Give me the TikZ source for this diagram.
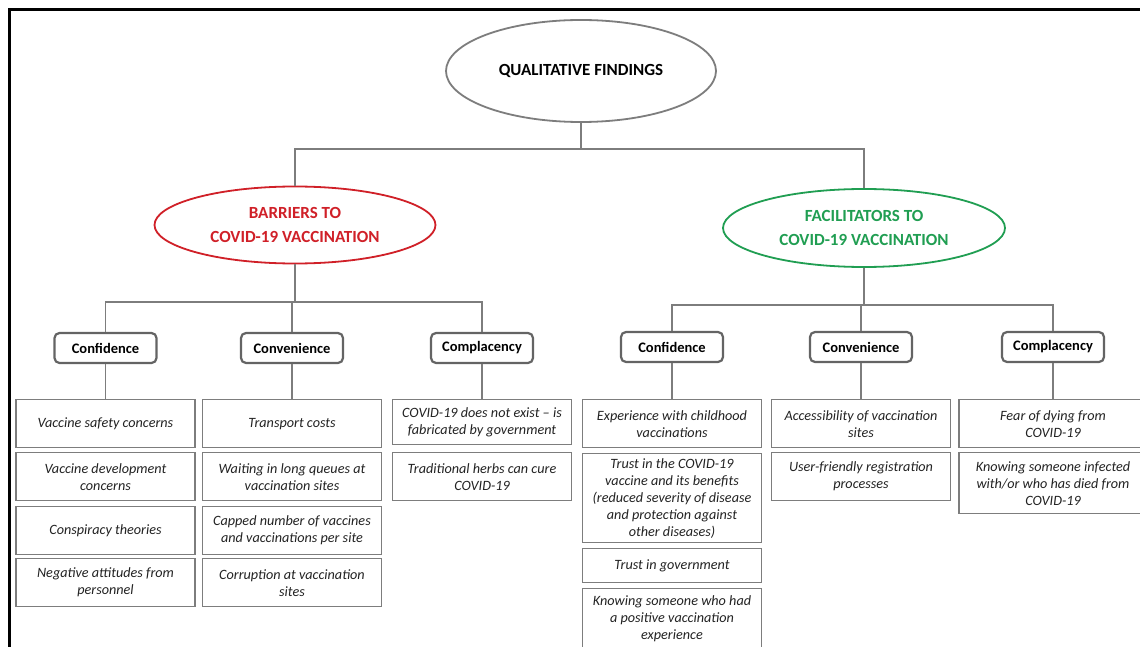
\documentclass[tikz,border=0pt]{standalone}
\usepackage{fontspec}
\setmainfont{Carlito}
\usetikzlibrary{shapes.geometric}
\definecolor{lineGray}{RGB}{125,125,125}
\definecolor{boxGray}{RGB}{100,100,100}
\definecolor{barRed}{RGB}{208,32,40}
\definecolor{facGreen}{RGB}{32,158,82}
\definecolor{itemText}{RGB}{35,35,35}
\begin{document}
\begin{tikzpicture}[x=1pt, y=-1pt]
\tikzstyle{theme} = [ellipse, draw=lineGray, line width=1.8pt, inner sep=0pt, align=center, font=\fontsize{17}{24}\selectfont\bfseries]
\tikzstyle{group} = [rectangle, rounded corners=5pt, draw=boxGray, line width=2.2pt, minimum width=102pt, minimum height=30pt, inner sep=0pt, font=\fontsize{14.5}{17}\selectfont\bfseries]
\tikzstyle{item} = [rectangle, draw=lineGray, line width=1.4pt, minimum width=179pt, anchor=north, inner sep=0pt, align=center, text=itemText, font=\fontsize{14.2}{17}\selectfont\itshape]
\tikzstyle{conn} = [draw=lineGray, line width=1.5pt]
\useasboundingbox (0,0) rectangle (1140,647);
\fill[white] (0,0) rectangle (1140,647);
\clip (0,0) rectangle (1140,647);
\draw[line width=3pt] (9,10) rectangle (1200,700);
\node (Q) at (581,71) [theme, minimum width=270pt, minimum height=102pt] {QUALITATIVE FINDINGS};
\node (BAR) at (295,225) [theme, draw=barRed, text=barRed, minimum width=281pt, minimum height=77pt] {BARRIERS TO\\COVID-19 VACCINATION};
\node (FAC) at (864,228) [theme, draw=facGreen, text=facGreen, minimum width=282pt, minimum height=78pt] {FACILITATORS TO\\COVID-19 VACCINATION};
\coordinate (J0) at (581,149);
\coordinate (JB) at (292,302);
\coordinate (JF) at (861,305);
\node (BC1) at (105.5,348) [group] {Confidence};
\node (BC2) at (292,348) [group] {Convenience};
\node (BC3) at (482,348) [group] {Complacency};
\node (FC1) at (672,347) [group] {Confidence};
\node (FC2) at (861,347) [group] {Convenience};
\node (FC3) at (1053,347) [group] {Complacency};
\node (B1_1) at (105.5,399) [item, minimum height=48pt] {Vaccine safety concerns};
\node (B1_2) at (105.5,452) [item, minimum height=48pt] {Vaccine development\\concerns};
\node (B1_3) at (105.5,506) [item, minimum height=48pt] {Conspiracy theories};
\node (B1_4) at (105.5,558) [item, minimum height=48pt] {Negative attitudes from\\personnel};
\node (B2_1) at (292,399) [item, minimum height=48pt] {Transport costs};
\node (B2_2) at (292,452) [item, minimum height=48pt] {Waiting in long queues at\\vaccination sites};
\node (B2_3) at (292,506) [item, minimum height=48pt] {Capped number of vaccines\\and vaccinations per site};
\node (B2_4) at (292,558) [item, minimum height=48pt] {Corruption at vaccination\\sites};
\node (B3_1) at (482,399) [item, minimum height=45pt] {COVID-19 does not exist – is\\fabricated by government};
\node (B3_2) at (482,452) [item, minimum height=48pt] {Traditional herbs can cure\\COVID-19};
\node (F1_1) at (672,399) [item, minimum height=48pt] {Experience with childhood\\vaccinations};
\node (F1_2) at (672,453) [item, minimum height=89pt] {Trust in the COVID-19\\vaccine and its benefits\\(reduced severity of disease\\and protection against\\other diseases)};
\node (F1_3) at (672,548) [item, minimum height=34pt] {Trust in government};
\node (F1_4) at (672,588) [item, minimum height=60pt] {Knowing someone who had\\a positive vaccination\\experience};
\node (F2_1) at (861,399) [item, minimum height=48pt] {Accessibility of vaccination\\sites};
\node (F2_2) at (861,452) [item, minimum height=48pt] {User-friendly registration\\processes};
\node (F3_1) at (1053,399) [item, minimum height=48pt, minimum width=188pt] {Fear of dying from\\COVID-19};
\node (F3_2) at (1053,452) [item, minimum height=61pt, minimum width=188pt] {Knowing someone infected\\with/or who has died from\\COVID-19};
\draw[conn] (Q.south) -- (J0);
\draw[conn] (BAR.north) |- (J0) -| (FAC.north);
\draw[conn] (BAR.south) |- (JB);
\draw[conn] (BC1.north) |- (JB) -| (BC3.north);
\draw[conn] (BC2.north) -- (JB);
\draw[conn] (FAC.south) |- (JF);
\draw[conn] (FC1.north) |- (JF) -| (FC3.north);
\draw[conn] (FC2.north) -- (JF);
\draw[conn] (BC1.south) -- (B1_1.north);
\draw[conn] (BC2.south) -- (B2_1.north);
\draw[conn] (BC3.south) -- (B3_1.north);
\draw[conn] (FC1.south) -- (F1_1.north);
\draw[conn] (FC2.south) -- (F2_1.north);
\draw[conn] (FC3.south) -- (F3_1.north);
\end{tikzpicture}
\end{document}
